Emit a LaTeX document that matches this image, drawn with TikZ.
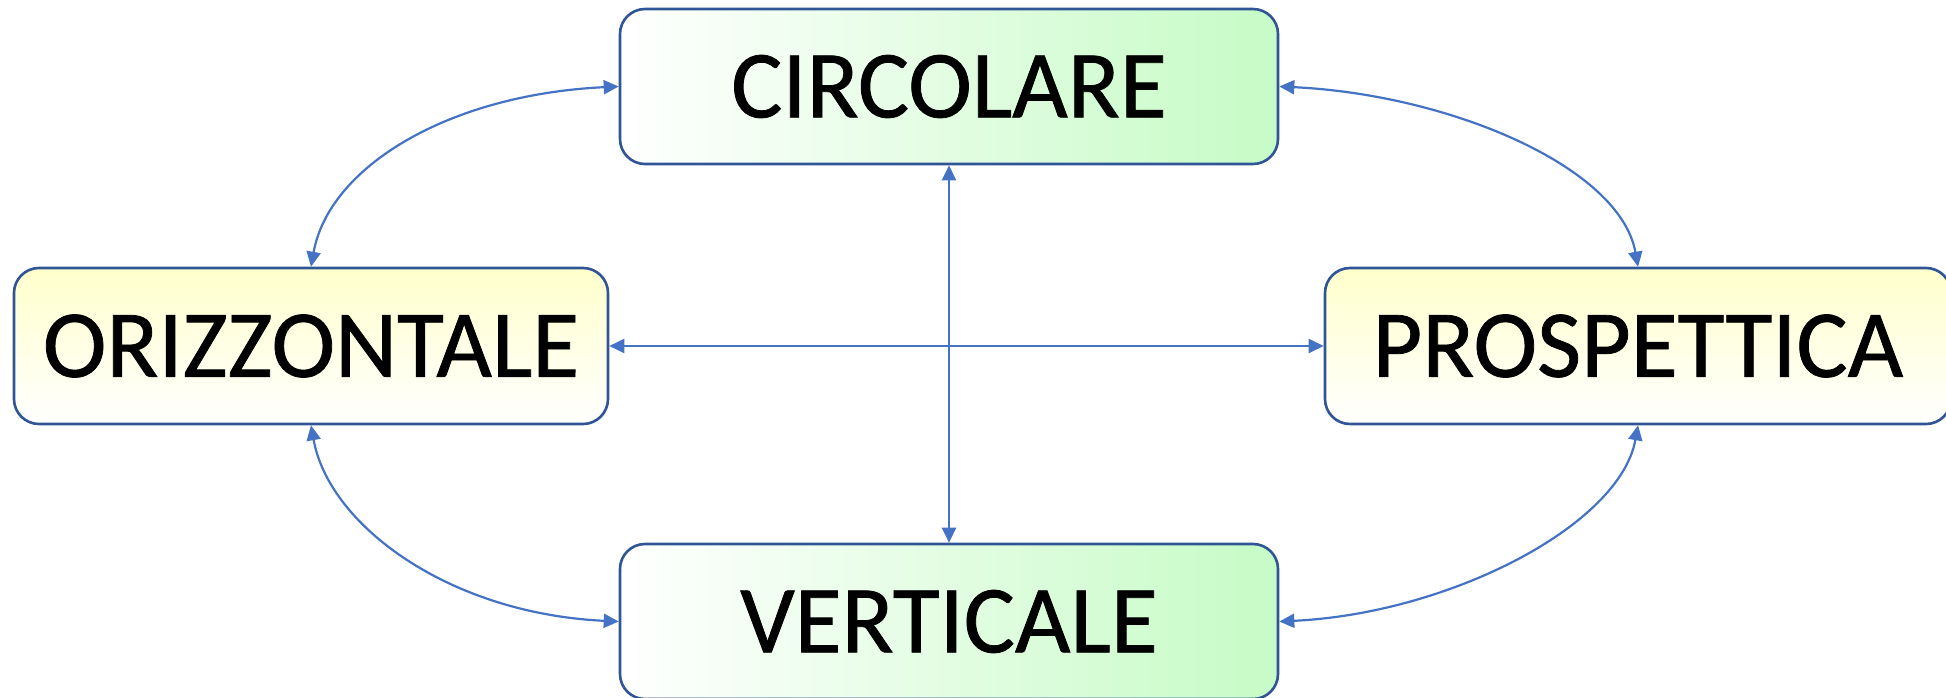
\documentclass[tikz,border=0pt]{standalone}
\usepackage{fontspec}
\setmainfont{Carlito}
\newfontfamily\boxfont{Carlito}[FakeBold=0.8]
\usetikzlibrary{arrows.meta}
\definecolor{boxline}{HTML}{2F5597}
\definecolor{arrowc}{HTML}{4472C4}
\definecolor{lgreen}{HTML}{C6FBC6}
\definecolor{lyellow}{HTML}{FFFFCC}
\tikzset{
  box/.style={draw=boxline, line width=1.3pt, rounded corners=12.5pt, inner sep=0pt,
    font=\boxfont\fontsize{48}{52}\selectfont, text=black},
  greenbox/.style={box, left color=white, right color=lgreen, minimum width=329pt, minimum height=77.5pt},
  yellowbox/.style={box, top color=lyellow, bottom color=white, minimum height=78pt},
  link/.style={draw=arrowc, line width=1.1pt, {Triangle[length=7.5pt,width=7pt]}-{Triangle[length=7.5pt,width=7pt]}}
}
\begin{document}
\begin{tikzpicture}[x=0.5pt,y=0.5pt]
\useasboundingbox (0,0) rectangle (1946,697);
\node[greenbox] (circ) at (949,610.5) {CIRCOLARE};
\node[greenbox] (vert) at (949,75.5) {VERTICALE};
\node[yellowbox, minimum width=297pt] (oriz) at (311,351) {ORIZZONTALE};
\node[yellowbox, minimum width=313pt] (prosp) at (1638,351) {PROSPETTICA};
% straight connectors
\draw[link] (oriz.east) -- (prosp.west);
\draw[link] (circ.south) -- (vert.north);
% curved connectors
\draw[link] (circ.west) .. controls +(-170,-8) and +(18,100) .. (oriz.north);
\draw[link] (circ.east) .. controls +(170,-8) and +(-18,100) .. (prosp.north);
\draw[link] (vert.west) .. controls +(-170,8) and +(18,-100) .. (oriz.south);
\draw[link] (vert.east) .. controls +(170,8) and +(-18,-100) .. (prosp.south);
\end{tikzpicture}
\end{document}
